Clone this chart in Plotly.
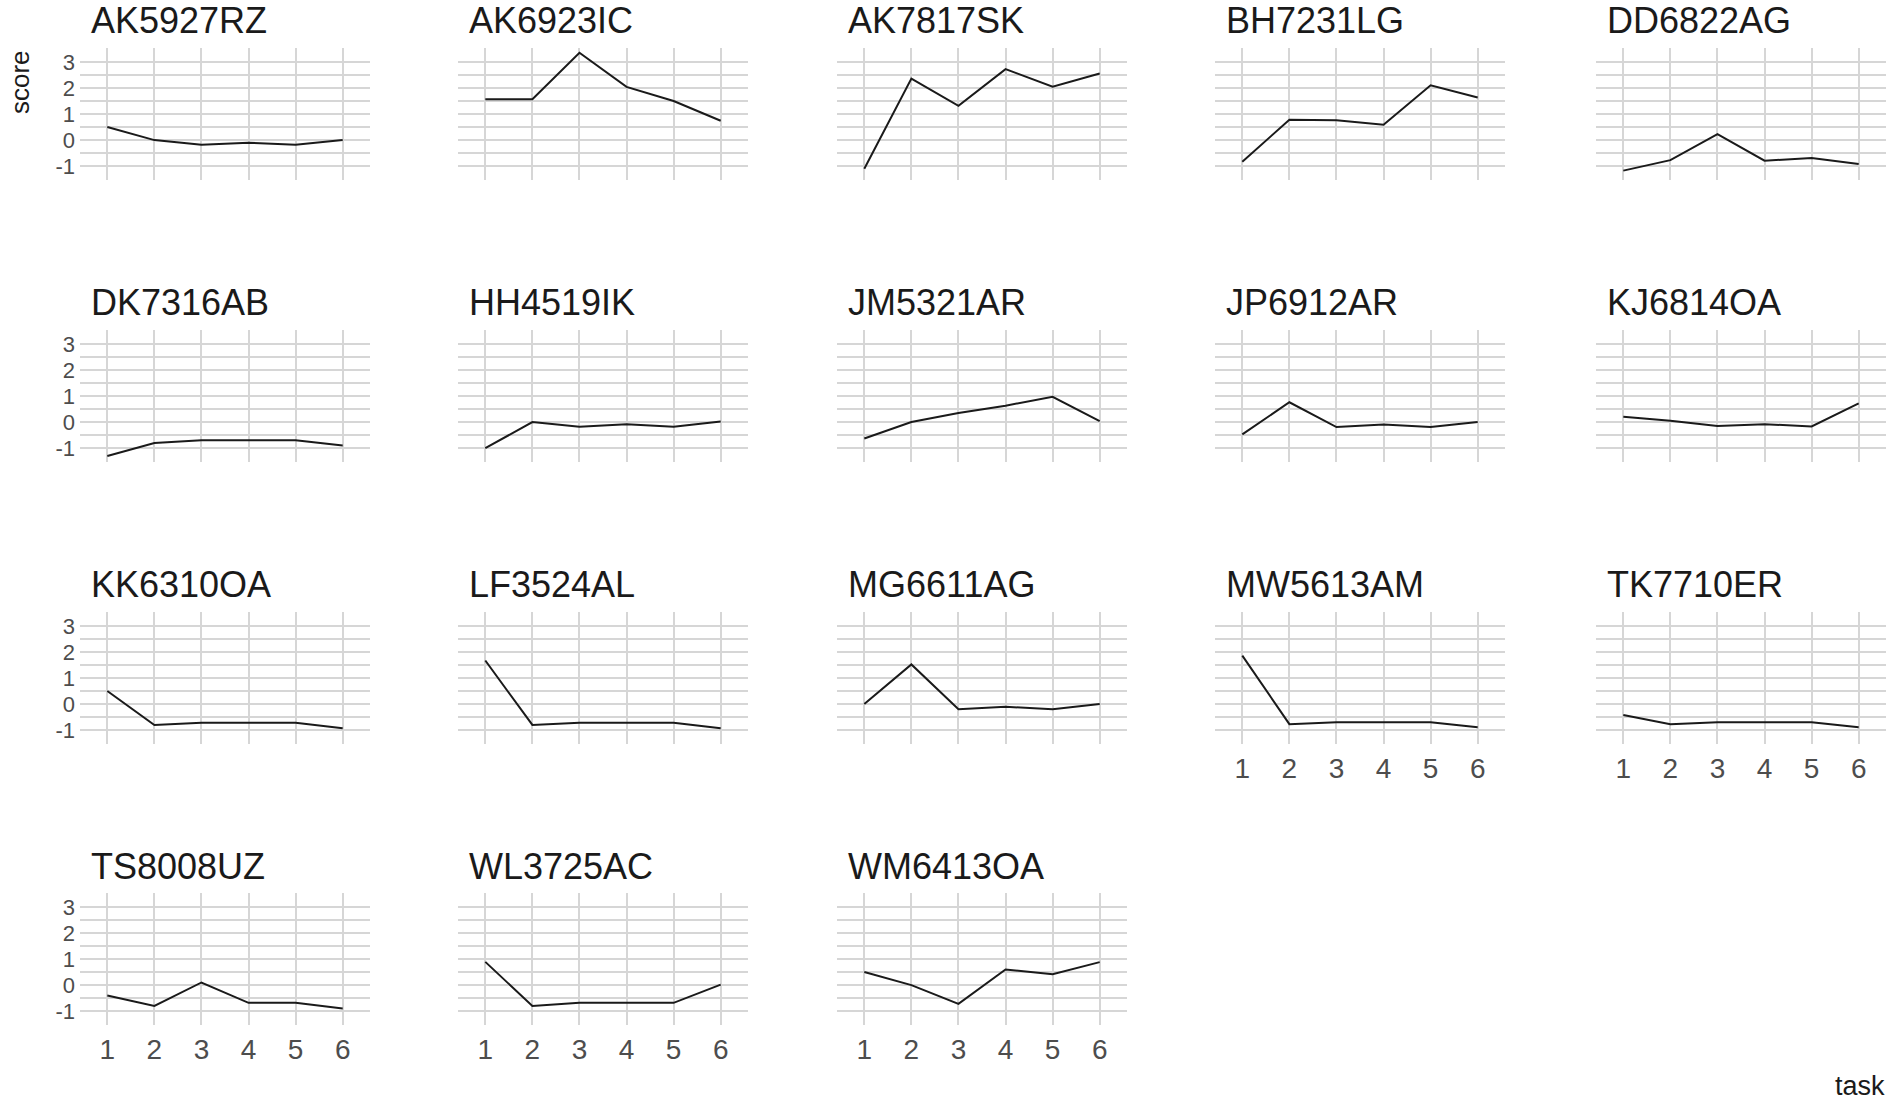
import plotly.graph_objects as go

W, H = 1902, 1113

tasks = [1, 2, 3, 4, 5, 6]

ak5927rz = [0.5, 0.0, -0.18, -0.1, -0.18, 0.0]
ak6923ic = [1.57, 1.57, 3.35, 2.04, 1.5, 0.74]
ak7817sk = [-1.1, 2.36, 1.31, 2.72, 2.05, 2.55]
bh7231lg = [-0.83, 0.78, 0.76, 0.59, 2.1, 1.63]
dd6822ag = [-1.17, -0.77, 0.23, -0.79, -0.69, -0.92]
dk7316ab = [-1.3, -0.8, -0.7, -0.7, -0.7, -0.9]
hh4519ik = [-1.0, 0.0, -0.18, -0.08, -0.18, 0.02]
jm5321ar = [-0.63, 0.0, 0.35, 0.63, 0.97, 0.04]
jp6912ar = [-0.47, 0.76, -0.19, -0.09, -0.19, 0.0]
kj6814oa = [0.2, 0.05, -0.15, -0.08, -0.17, 0.72]
kk6310oa = [0.5, -0.8, -0.72, -0.72, -0.72, -0.93]
lf3524al = [1.67, -0.8, -0.72, -0.72, -0.72, -0.93]
mg6611ag = [0.0, 1.52, -0.2, -0.1, -0.2, 0.0]
mw5613am = [1.86, -0.77, -0.7, -0.7, -0.7, -0.89]
tk7710er = [-0.42, -0.77, -0.7, -0.7, -0.7, -0.89]
ts8008uz = [-0.4, -0.8, 0.1, -0.68, -0.68, -0.9]
wl3725ac = [0.89, -0.8, -0.68, -0.68, -0.68, 0.02]
wm6413oa = [0.5, 0.0, -0.72, 0.6, 0.42, 0.88]

panels = [
    ("AK5927RZ", ak5927rz), ("AK6923IC", ak6923ic), ("AK7817SK", ak7817sk),
    ("BH7231LG", bh7231lg), ("DD6822AG", dd6822ag), ("DK7316AB", dk7316ab),
    ("HH4519IK", hh4519ik), ("JM5321AR", jm5321ar), ("JP6912AR", jp6912ar),
    ("KJ6814OA", kj6814oa), ("KK6310OA", kk6310oa), ("LF3524AL", lf3524al),
    ("MG6611AG", mg6611ag), ("MW5613AM", mw5613am), ("TK7710ER", tk7710er),
    ("TS8008UZ", ts8008uz), ("WL3725AC", wl3725ac), ("WM6413OA", wm6413oa),
]

y_ticks = [-1.5, -1, -0.5, 0, 0.5, 1, 1.5, 2, 2.5, 3, 3.5]
y_text = ["", "-1", "", "0", "", "1", "", "2", "", "3", ""]

# panel positions in screen pixels
col_x = [80, 458, 837, 1215, 1596]
row_top = [48, 330, 612, 893]
pw, ph = 290, 132

font = "Liberation Sans, Arial, sans-serif"
grid = "#d6d6d6"


def px(x):
    return x / W


def py(y):
    return 1 - y / H


fig = go.Figure()
annotations = []
n_panels = len(panels)
for i, (name, vals) in enumerate(panels):
    r, c = divmod(i, 5)
    n = i + 1
    sfx = "" if n == 1 else str(n)
    fig.add_trace(go.Scatter(x=tasks, y=vals, mode="lines",
                             line=dict(color="#1a1a1a", width=2),
                             xaxis="x" + sfx, yaxis="y" + sfx, showlegend=False))
    # bottom panel of each column carries the task labels
    show_x = (i + 5) >= n_panels
    fig.layout["xaxis" + sfx] = dict(
        domain=[px(col_x[c]), px(col_x[c] + pw)], anchor="y" + sfx,
        range=[0.42, 6.58], tickvals=tasks, showticklabels=show_x,
        showgrid=True, gridcolor=grid, gridwidth=2, zeroline=False,
        showline=False, ticks="", ticklabelstandoff=5,
        tickfont=dict(family=font, size=28, color="#4d4d4d"))
    fig.layout["yaxis" + sfx] = dict(
        domain=[py(row_top[r] + ph), py(row_top[r])], anchor="x" + sfx,
        range=[-1.53, 3.53], tickvals=y_ticks, ticktext=y_text,
        showticklabels=(c == 0), showgrid=True, gridcolor=grid, gridwidth=2,
        zeroline=False, showline=False, ticks="", ticklabelstandoff=4,
        tickfont=dict(family=font, size=22, color="#4d4d4d"))
    annotations.append(dict(
        text=name, xref="paper", yref="paper",
        x=px(col_x[c] + 9), y=py(row_top[r] - 27),
        xanchor="left", yanchor="middle", showarrow=False,
        font=dict(family=font, size=36, color="#1a1a1a")))

annotations.append(dict(text="score", xref="paper", yref="paper",
                        x=px(20), y=py(82), textangle=-90,
                        xanchor="center", yanchor="middle", showarrow=False,
                        font=dict(family=font, size=26, color="#1a1a1a")))
annotations.append(dict(text="task", xref="paper", yref="paper",
                        x=px(1860), y=py(1086),
                        xanchor="center", yanchor="middle", showarrow=False,
                        font=dict(family=font, size=27, color="#1a1a1a")))

fig.update_layout(width=W, height=H, margin=dict(l=0, r=0, t=0, b=0),
                  paper_bgcolor="white", plot_bgcolor="white",
                  annotations=annotations, showlegend=False)

# drop the default 8px page margin so the figure fills the window
fig.write_html("out.html", config={"displayModeBar": False},
               post_script="document.body.style.margin='0px';"
                           "document.body.style.overflow='hidden';")
